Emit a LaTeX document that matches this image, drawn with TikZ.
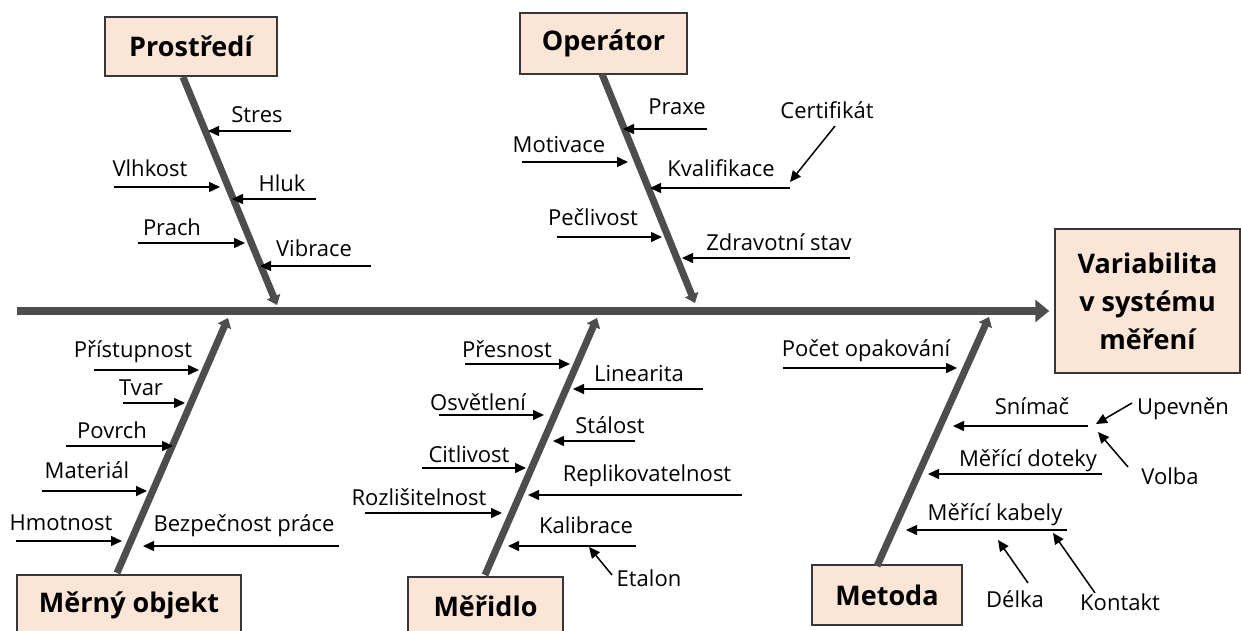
\documentclass[tikz,border=0pt]{standalone}
\usepackage{fontspec}
\setmainfont{Open Sans}
\usetikzlibrary{arrows.meta}
\definecolor{bonegray}{RGB}{77,77,77}
\definecolor{peach}{RGB}{251,229,214}
\definecolor{boxline}{RGB}{55,55,55}
\begin{document}
\begin{tikzpicture}[x=1pt,y=-1pt,
  lbl/.style={font=\fontsize{22}{26}\selectfont, inner sep=0pt, anchor=base},
  box/.style={draw=boxline, line width=1.5pt, fill=peach, font=\fontsize{27}{38}\selectfont\bfseries, align=center, inner sep=0pt},
  bone/.style={draw=bonegray, line width=7pt, -{Triangle[length=9pt,width=14pt]}},
  spine/.style={draw=bonegray, line width=8pt, -{Triangle[length=14pt,width=22pt]}},
  arr/.style={draw=black, line width=1.5pt, -{Triangle[length=11pt,width=10pt]}}]
\useasboundingbox (0,0) rectangle (1241,631);
\clip (0,0) rectangle (1241,631);

% boxes
\node[box, minimum width=172pt, minimum height=59pt] (pro) at (191,46.5) {Prostředí};
\node[box, minimum width=167pt, minimum height=61pt] (ope) at (603.5,43.5) {Operátor};
\node[box, minimum width=185pt, minimum height=144pt] (res) at (1147.5,301) {Variabilita\\v systému\\měření};
\node[box, minimum width=224pt, minimum height=60pt] (obj) at (129,605) {Měrný objekt};
\node[box, minimum width=155pt, minimum height=58pt] (mer) at (485.5,606) {Měřidlo};
\node[box, minimum width=150pt, minimum height=60pt] (met) at (887,595) {Metoda};

% spine
\coordinate (sp0) at (17,311);
\draw[spine, shorten >=5pt] (sp0) -- (res.west |- sp0);

% bones
\coordinate (proB) at (183,77);   \coordinate (proT) at (277,305);
\coordinate (opeB) at (602,74);   \coordinate (opeT) at (695,303);
\coordinate (objB) at (117,573);  \coordinate (objT) at (228,318);
\coordinate (merB) at (485,575);  \coordinate (merT) at (597,318);
\coordinate (metB) at (877,566);  \coordinate (metT) at (989,317);
\draw[bone] (proB) -- (proT);
\draw[bone] (opeB) -- (opeT);
\draw[bone] (objB) -- (objT);
\draw[bone] (merB) -- (merT);
\draw[bone] (metB) -- (metT);

% Prostredi
\node[lbl] (stres) at (257,123) {Stres};
\coordinate (stresA) at (291,131); \coordinate (stresB) at (208,131);
\draw[arr] (stresA) -- (stresB);
\node[lbl] (vlh) at (150,176) {Vlhkost};
\coordinate (vlhA) at (114,187); \coordinate (vlhB) at (220,187);
\draw[arr] (vlhA) -- (vlhB);
\node[lbl] (hluk) at (282,191) {Hluk};
\coordinate (hlukA) at (316,199); \coordinate (hlukB) at (232,199);
\draw[arr] (hlukA) -- (hlukB);
\node[lbl] (prach) at (172,235) {Prach};
\coordinate (prachA) at (138,243); \coordinate (prachB) at (245,243);
\draw[arr] (prachA) -- (prachB);
\node[lbl] (vib) at (314,256) {Vibrace};
\coordinate (vibA) at (371,266); \coordinate (vibB) at (260,266);
\draw[arr] (vibA) -- (vibB);

% Operator
\node[lbl] (praxe) at (677,115) {Praxe};
\coordinate (praxeA) at (707,129); \coordinate (praxeB) at (623,129);
\draw[arr] (praxeA) -- (praxeB);
\node[lbl] (mot) at (559,153) {Motivace};
\coordinate (motA) at (522,162); \coordinate (motB) at (628,162);
\draw[arr] (motA) -- (motB);
\node[lbl] (kval) at (721,177) {Kvalifikace};
\coordinate (kvalA) at (790,188); \coordinate (kvalB) at (650,188);
\draw[arr] (kvalA) -- (kvalB);
\node[lbl] (cert) at (827,119) {Certifikát};
\coordinate (certA) at (835,126); \coordinate (certB) at (790,182);
\draw[arr] (certA) -- (certB);
\node[lbl] (pecl) at (593,225) {Pečlivost};
\coordinate (peclA) at (557,237); \coordinate (peclB) at (662,237);
\draw[arr] (peclA) -- (peclB);
\node[lbl] (zdr) at (779,250) {Zdravotní stav};
\coordinate (zdrA) at (850,258); \coordinate (zdrB) at (682,258);
\draw[arr] (zdrA) -- (zdrB);

% Merny objekt
\node[lbl] (pris) at (133,357) {Přístupnost};
\coordinate (prisA) at (94,370); \coordinate (prisB) at (199,370);
\draw[arr] (prisA) -- (prisB);
\node[lbl] (tvar) at (141,395) {Tvar};
\coordinate (tvarA) at (123,403); \coordinate (tvarB) at (185,403);
\draw[arr] (tvarA) -- (tvarB);
\node[lbl] (povr) at (112,438) {Povrch};
\coordinate (povrA) at (66,446); \coordinate (povrB) at (173,446);
\draw[arr] (povrA) -- (povrB);
\node[lbl] (mat) at (87,478) {Materiál};
\coordinate (matA) at (42,491); \coordinate (matB) at (147,491);
\draw[arr] (matA) -- (matB);
\node[lbl] (hmot) at (61,530) {Hmotnost};
\coordinate (hmotA) at (16,541); \coordinate (hmotB) at (122,541);
\draw[arr] (hmotA) -- (hmotB);
\node[lbl] (bez) at (244,531) {Bezpečnost práce};
\coordinate (bezA) at (339,546); \coordinate (bezB) at (143,546);
\draw[arr] (bezA) -- (bezB);

% Meridlo
\node[lbl] (pres) at (507,357) {Přesnost};
\coordinate (presA) at (465,364); \coordinate (presB) at (570,364);
\draw[arr] (presA) -- (presB);
\node[lbl] (lin) at (639,381) {Linearita};
\coordinate (linA) at (703,389); \coordinate (linB) at (573,389);
\draw[arr] (linA) -- (linB);
\node[lbl] (osv) at (478,410) {Osvětlení};
\coordinate (osvA) at (439,415); \coordinate (osvB) at (544,415);
\draw[arr] (osvA) -- (osvB);
\node[lbl] (stal) at (610,433) {Stálost};
\coordinate (stalA) at (635,441); \coordinate (stalB) at (553,441);
\draw[arr] (stalA) -- (stalB);
\node[lbl] (cit) at (469,462) {Citlivost};
\coordinate (citA) at (422,468); \coordinate (citB) at (526,468);
\draw[arr] (citA) -- (citB);
\node[lbl] (rep) at (647,481) {Replikovatelnost};
\coordinate (repA) at (742,495); \coordinate (repB) at (528,495);
\draw[arr] (repA) -- (repB);
\node[lbl] (roz) at (419,505) {Rozlišitelnost};
\coordinate (rozA) at (365,513); \coordinate (rozB) at (502,513);
\draw[arr] (rozA) -- (rozB);
\node[lbl] (kal) at (586,533) {Kalibrace};
\coordinate (kalA) at (636,546); \coordinate (kalB) at (508,546);
\draw[arr] (kalA) -- (kalB);
\node[lbl] (eta) at (649,586) {Etalon};
\coordinate (etaA) at (612,575); \coordinate (etaB) at (589,547);
\draw[arr] (etaA) -- (etaB);

% Metoda
\node[lbl] (poc) at (866,356) {Počet opakování};
\coordinate (pocA) at (783,368); \coordinate (pocB) at (957,368);
\draw[arr] (pocA) -- (pocB);
\node[lbl] (snim) at (1032,414) {Snímač};
\coordinate (snimA) at (1088,426); \coordinate (snimB) at (953,426);
\draw[arr] (snimA) -- (snimB);
\node[lbl] (upev) at (1183,414) {Upevněn};
\coordinate (upevA) at (1132,403); \coordinate (upevB) at (1096,424);
\draw[arr] (upevA) -- (upevB);
\node[lbl] (volba) at (1170,484) {Volba};
\coordinate (volbaA) at (1128,467); \coordinate (volbaB) at (1098,432);
\draw[arr] (volbaA) -- (volbaB);
\node[lbl] (dot) at (1028,466) {Měřící doteky};
\coordinate (dotA) at (1102,474); \coordinate (dotB) at (928,474);
\draw[arr] (dotA) -- (dotB);
\node[lbl] (kab) at (995,520) {Měřící kabely};
\coordinate (kabA) at (1067,530); \coordinate (kabB) at (906,530);
\draw[arr] (kabA) -- (kabB);
\node[lbl] (delka) at (1015,607) {Délka};
\coordinate (delkaA) at (1028,583); \coordinate (delkaB) at (998,540);
\draw[arr] (delkaA) -- (delkaB);
\node[lbl] (kont) at (1120,610) {Kontakt};
\coordinate (kontA) at (1095,593); \coordinate (kontB) at (1053,533);
\draw[arr] (kontA) -- (kontB);
\end{tikzpicture}
\end{document}
